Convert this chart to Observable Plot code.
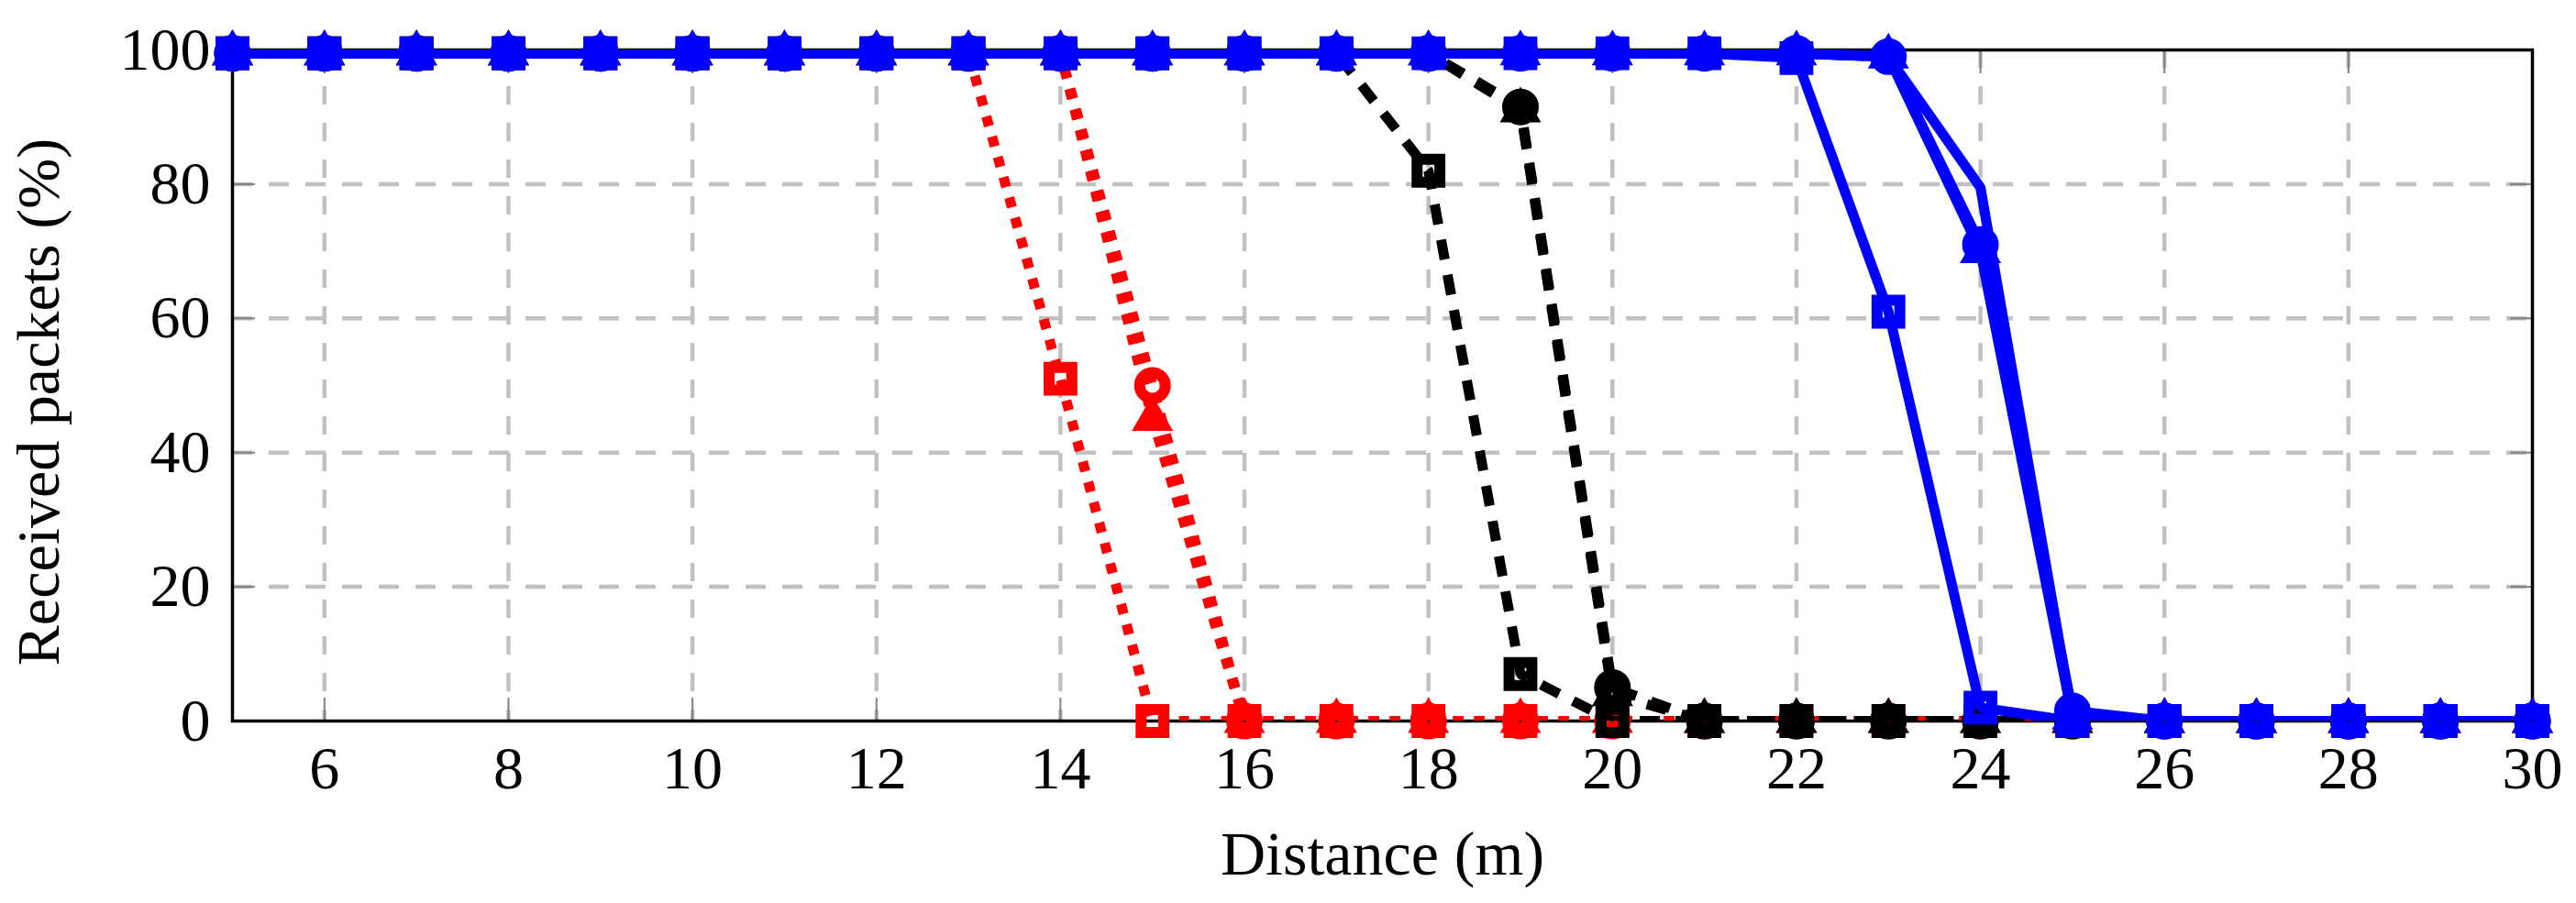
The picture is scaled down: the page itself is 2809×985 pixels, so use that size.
<!DOCTYPE html>
<html><head><meta charset="utf-8">
<script src="https://cdn.jsdelivr.net/npm/d3@7"></script>
<script src="https://cdn.jsdelivr.net/npm/@observablehq/plot@0.6"></script>
<style>body{margin:0;background:#fff} svg{display:block}</style>
</head><body><div id="chart"></div>
<script>
// Distance (m)
const distance = [5,6,7,8,9,10,11,12,13,14,15,16,17,18,19,20,21,22,23,24,25,26,27,28,29,30];
// Received packets (%)
const redSquare   = [99.5,99.5,99.5,99.5,99.5,99.5,99.5,99.5,99.5,51,0,0,0,0,0,0,0,0,0,0,0,0,0,0,0,0];
const redCircle   = [99.5,99.5,99.5,99.5,99.5,99.5,99.5,99.5,99.5,99.5,50,0,0,0,0,0,0,0,0,0,0,0,0,0,0,0];
const redTriangle = [99.5,99.5,99.5,99.5,99.5,99.5,99.5,99.5,99.5,99.5,45,0,0,0,0,0,0,0,0,0,0,0,0,0,0,0];
const blackSquare   = [99.5,99.5,99.5,99.5,99.5,99.5,99.5,99.5,99.5,99.5,99.5,99.5,99.5,82,7,0,0,0,0,0,0,0,0,0,0,0];
const blackCircle   = [99.5,99.5,99.5,99.5,99.5,99.5,99.5,99.5,99.5,99.5,99.5,99.5,99.5,99.5,91.5,5,0,0,0,0,0,0,0,0,0,0];
const blackTriangle = [99.5,99.5,99.5,99.5,99.5,99.5,99.5,99.5,99.5,99.5,99.5,99.5,99.5,99.5,91,4,0,0,0,0,0,0,0,0,0,0];
const blueSquare   = [99.5,99.5,99.5,99.5,99.5,99.5,99.5,99.5,99.5,99.5,99.5,99.5,99.5,99.5,99.5,99.5,99.5,98.8,61,2,0,0,0,0,0,0];
const blueCircle   = [99.5,99.5,99.5,99.5,99.5,99.5,99.5,99.5,99.5,99.5,99.5,99.5,99.5,99.5,99.5,99.5,99.5,99.5,99,71,1.5,0,0,0,0,0];
const blueTriangle = [99.5,99.5,99.5,99.5,99.5,99.5,99.5,99.5,99.5,99.5,99.5,99.5,99.5,99.5,99.5,99.5,99.5,99.5,99,70,0.5,0,0,0,0,0];
const blueLine     = [99.5,99.5,99.5,99.5,99.5,99.5,99.5,99.5,99.5,99.5,99.5,99.5,99.5,99.5,99.5,99.5,99.5,99.5,99,79.5,0.5,0,0,0,0,0];

const xTicks = [6,8,10,12,14,16,18,20,22,24,26,28,30];
const xGrid = [6,8,10,12,14,16,18,20,22,24,26,28];
const yTicks = [0,20,40,60,80,100];
const yGrid = [20,40,60,80];
const xLabel = "Distance (m)";
const yLabel = "Received packets (%)";

const series = [
  {values: redSquare,     color: "#ff0000", symbol: "square",   r: 14, dash: "11,12"},
  {values: redCircle,     color: "#ff0000", symbol: "circle",   r: 14, dash: "11,12"},
  {values: redTriangle,   color: "#ff0000", symbol: "triangle", r: 9,  dash: "11,12"},
  {values: blackSquare,   color: "#000000", symbol: "square",   r: 14, dash: "22,17"},
  {values: blackCircle,   color: "#000000", symbol: "circle",   r: 14, dash: "22,17"},
  {values: blackTriangle, color: "#000000", symbol: "triangle", r: 9,  dash: "22,17"},
  {values: blueSquare,    color: "#0000ff", symbol: "square",   r: 14, dash: null},
  {values: blueCircle,    color: "#0000ff", symbol: "circle",   r: 14, dash: null},
  {values: blueTriangle,  color: "#0000ff", symbol: "triangle", r: 9,  dash: null},
  {values: blueLine,      color: "#0000ff", symbol: null,       r: 0,  dash: null}
];

const marks = [
  Plot.gridX(xGrid, {stroke: "#c0c0c0", strokeOpacity: 1, strokeWidth: 4.5, strokeDasharray: "20,20"}),
  Plot.gridY(yGrid, {stroke: "#c0c0c0", strokeOpacity: 1, strokeWidth: 4.5, strokeDasharray: "22,18"}),
  Plot.axisX(xTicks, {anchor: "bottom", tickSize: -25, tickFormat: () => "", stroke: "#808080", strokeWidth: 2}),
  Plot.axisX(xTicks, {anchor: "top", tickSize: -25, tickFormat: () => "", stroke: "#808080", strokeWidth: 2}),
  Plot.axisY(yTicks, {anchor: "left", tickSize: -25, tickFormat: () => "", stroke: "#808080", strokeWidth: 2}),
  Plot.axisY(yTicks, {anchor: "right", tickSize: -25, tickFormat: () => "", stroke: "#808080", strokeWidth: 2}),
  Plot.frame({stroke: "#000", strokeWidth: 3.5})
];

for (const s of series) {
  const rows = distance.map((d, i) => ({x: d, y: s.values[i]}));
  marks.push(Plot.line(rows, {x: "x", y: "y", stroke: s.color, strokeWidth: 11,
    strokeDasharray: s.dash, strokeLinecap: "butt", strokeLinejoin: "miter", clip: true}));
  if (s.symbol) {
    marks.push(Plot.dot(rows, {x: "x", y: "y", symbol: s.symbol, r: s.r, stroke: s.color,
      strokeWidth: 12, fill: "none", strokeLinejoin: "miter"}));
  }
}

marks.push(
  Plot.axisX(xTicks, {anchor: "bottom", tickSize: 0, tickPadding: 27, fontSize: 66, label: null}),
  Plot.axisY(yTicks, {anchor: "left", tickSize: 0, tickPadding: 24, fontSize: 66, label: null}),
  Plot.text([xLabel], {text: d => d, frameAnchor: "bottom", dy: 167, lineAnchor: "bottom", textAnchor: "middle", fontSize: 68, fill: "#000"}),
  Plot.text([yLabel], {text: d => d, frameAnchor: "left", dx: -190, dy: 18, rotate: -90, lineAnchor: "bottom", textAnchor: "middle", fontSize: 66, fill: "#000"})
);

const chart = Plot.plot({
  width: 2809, height: 985,
  marginLeft: 253, marginRight: 48, marginTop: 54, marginBottom: 199,
  x: {domain: [5, 30], label: null},
  y: {domain: [0, 100], label: null},
  style: {fontFamily: "'Liberation Serif', 'DejaVu Serif', serif", fontSize: "66px", background: "#fff", color: "#000"},
  marks
});
document.getElementById("chart").appendChild(chart);
</script>
</body></html>
